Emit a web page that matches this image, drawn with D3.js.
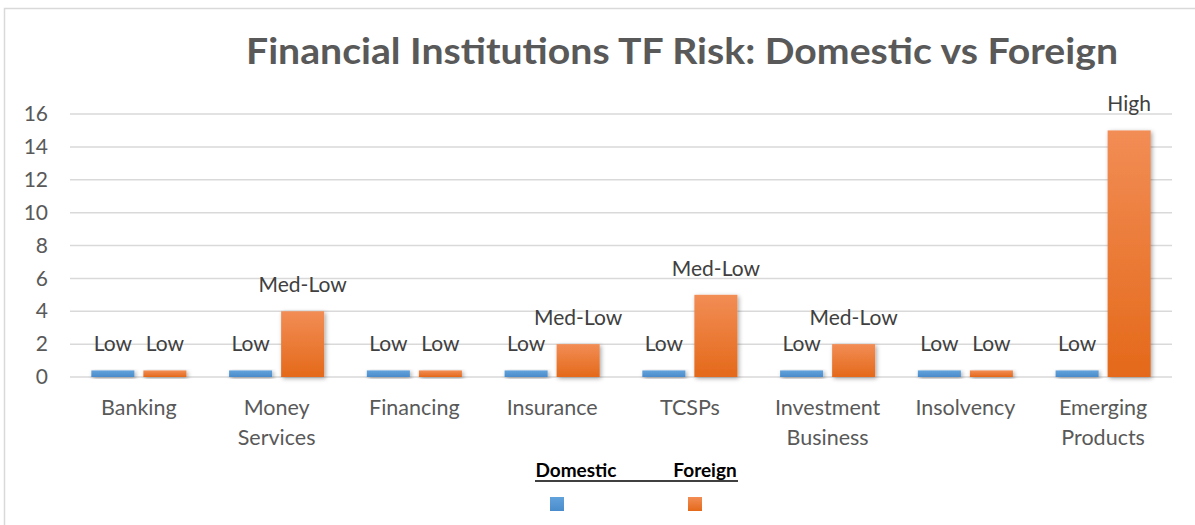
<!DOCTYPE html>
<html>
<head>
<meta charset="utf-8">
<script src="https://cdn.jsdelivr.net/npm/d3@7"></script>
<style>
  body { margin: 0; background: #fff; }
  svg { display: block; }
  text { font-family: Lato, "Open Sans", sans-serif; }
</style>
</head>
<body>
<svg id="chart" width="1195" height="525"></svg>
<script>
// data
var categories = ["Banking", "Money Services", "Financing", "Insurance", "TCSPs",
                  "Investment Business", "Insolvency", "Emerging Products"];
var catLines = [["Banking"], ["Money", "Services"], ["Financing"], ["Insurance"], ["TCSPs"],
                ["Investment", "Business"], ["Insolvency"], ["Emerging", "Products"]];
var series = ["Domestic", "Foreign"];
var domesticValues = [0.4, 0.4, 0.4, 0.4, 0.4, 0.4, 0.4, 0.4];
var foreignValues = [0.4, 4, 0.4, 2, 5, 2, 0.4, 15];
var domesticLabels = ["Low", "Low", "Low", "Low", "Low", "Low", "Low", "Low"];
var foreignLabels = ["Low", "Med-Low", "Low", "Med-Low", "Med-Low", "Med-Low", "Low", "High"];
var yTicks = [0, 2, 4, 6, 8, 10, 12, 14, 16];

var svg = d3.select("#chart");
var defs = svg.append("defs");

// gradients + shadow
var grads = { Domestic: ["#62a3dc", "#4a8bcb"], Foreign: ["#f28d55", "#e4691a"] };
series.forEach(function(s) {
    var g = defs.append("linearGradient").attr("id", "grad-" + s)
        .attr("x1", 0).attr("y1", 0).attr("x2", 0).attr("y2", 1);
    g.append("stop").attr("offset", "0%").attr("stop-color", grads[s][0]);
    g.append("stop").attr("offset", "100%").attr("stop-color", grads[s][1]);
});
defs.append("filter").attr("id", "shadow")
    .attr("x", "-20%").attr("y", "-20%").attr("width", "150%").attr("height", "150%")
    .append("feDropShadow")
    .attr("dx", 1.5).attr("dy", 1.5).attr("stdDeviation", 2)
    .attr("flood-color", "#000").attr("flood-opacity", 0.35);

// outer frame
svg.append("rect")
    .attr("x", 4.5).attr("y", 8.5).attr("width", 1200).attr("height", 600)
    .attr("fill", "none").attr("stroke", "#d9d9d9").attr("stroke-width", 1.5);

// title
svg.append("text")
    .attr("x", 682).attr("y", 64)
    .attr("text-anchor", "middle")
    .attr("font-size", 37).attr("font-weight", "bold")
    .attr("fill", "#595959")
    .attr("textLength", 872).attr("lengthAdjust", "spacingAndGlyphs")
    .text("Financial Institutions TF Risk: Domestic vs Foreign");

var x = d3.scaleBand().domain(categories).range([70, 1172]);
var xs = d3.scaleBand().domain(series).range([0, x.bandwidth()])
    .paddingInner(0.173).paddingOuter(0.41);
var y = d3.scaleLinear().domain([0, 16]).range([377, 114]);

// gridlines
svg.append("g").selectAll("line").data(yTicks).enter().append("line")
    .attr("x1", 70).attr("x2", 1172)
    .attr("y1", function(d) { return y(d); })
    .attr("y2", function(d) { return y(d); })
    .attr("stroke", "#d9d9d9").attr("stroke-width", 1.5);

// y axis
var yAxis = svg.append("g")
    .attr("transform", "translate(48,0)")
    .call(d3.axisLeft(y).tickValues(yTicks).tickSize(0).tickPadding(0));
yAxis.select(".domain").remove();
yAxis.selectAll("text")
    .attr("font-family", "Lato, sans-serif")
    .attr("font-size", 21).attr("fill", "#595959");

// bars
var rows = categories.map(function(c, i) {
    return { cat: c, vals: [
        { s: "Domestic", v: domesticValues[i], label: domesticLabels[i] },
        { s: "Foreign", v: foreignValues[i], label: foreignLabels[i] }
    ] };
});

var groups = svg.append("g").selectAll("g.cat")
    .data(rows).enter().append("g")
    .attr("class", "cat")
    .attr("transform", function(d) { return "translate(" + x(d.cat) + ",0)"; });

groups.selectAll("rect").data(function(d) { return d.vals; }).enter().append("rect")
    .attr("x", function(d) { return xs(d.s); })
    .attr("y", function(d) { return y(d.v); })
    .attr("width", xs.bandwidth())
    .attr("height", function(d) { return y(0) - y(d.v); })
    .attr("fill", function(d) { return "url(#grad-" + d.s + ")"; })
    .attr("filter", "url(#shadow)");

groups.selectAll("text.lbl").data(function(d) { return d.vals; }).enter().append("text")
    .attr("class", "lbl")
    .attr("x", function(d) { return xs(d.s) + xs.bandwidth() / 2; })
    .attr("y", function(d) { return y(d.v) - 19; })
    .attr("text-anchor", "middle")
    .attr("font-size", 21).attr("fill", "#404040")
    .text(function(d) { return d.label; });

// x labels
groups.each(function(d, i) {
    var t = d3.select(this).append("text")
        .attr("text-anchor", "middle")
        .attr("font-size", 21.5).attr("fill", "#595959");
    catLines[i].forEach(function(line, j) {
        t.append("tspan")
            .attr("x", x.bandwidth() / 2)
            .attr("y", 415 + j * 30)
            .text(line);
    });
});

// legend
var legX = { Domestic: 576, Foreign: 705 };
var leg = svg.append("g");
series.forEach(function(s) {
    leg.append("text")
        .attr("x", legX[s]).attr("y", 477)
        .attr("text-anchor", "middle")
        .attr("font-size", 19).attr("font-weight", "bold")
        .attr("fill", "#000")
        .text(s);
});
leg.append("line")
    .attr("x1", 535).attr("x2", 738).attr("y1", 481).attr("y2", 481)
    .attr("stroke", "#000").attr("stroke-width", 1.5);
var sqX = { Domestic: 550, Foreign: 688 };
series.forEach(function(s) {
    leg.append("rect")
        .attr("x", sqX[s]).attr("y", 497).attr("width", 14).attr("height", 14)
        .attr("fill", "url(#grad-" + s + ")");
});
</script>
</body>
</html>
